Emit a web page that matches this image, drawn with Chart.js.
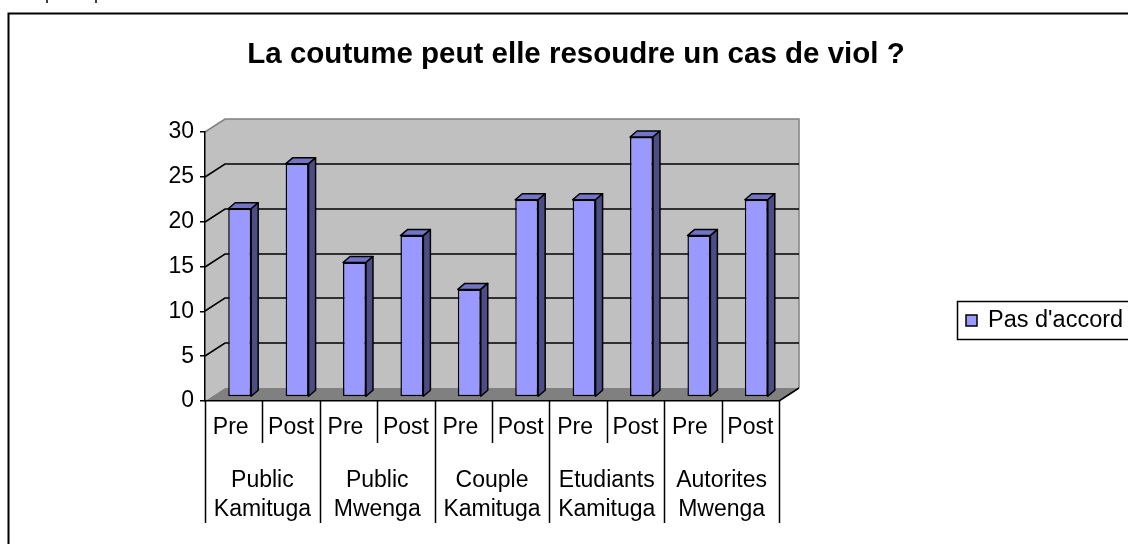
<!DOCTYPE html>
<html>
<head>
<meta charset="utf-8">
<script src="https://cdn.jsdelivr.net/npm/chart.js@4.4.0/dist/chart.umd.min.js"></script>
<style>
  html, body { margin: 0; padding: 0; background: #fff; }
  #wrap { width: 1128px; height: 544px; }
</style>
</head>
<body>
<div id="wrap"><canvas id="chart" width="1128" height="544"></canvas></div>
<script>
const chartTitle = 'La coutume peut elle resoudre un cas de viol ?';
const groups = [['Public', 'Kamituga'], ['Public', 'Mwenga'], ['Couple', 'Kamituga'], ['Etudiants', 'Kamituga'], ['Autorites', 'Mwenga']];
const phases = ['Pre', 'Post'];
const labels = ['Pre', 'Post', 'Pre', 'Post', 'Pre', 'Post', 'Pre', 'Post', 'Pre', 'Post'];
const seriesName = "Pas d'accord";
const values = [21, 26, 15, 18, 12, 22, 22, 29, 18, 22];
const yTicks = [0, 5, 10, 15, 20, 25, 30];

const FONT = "'Liberation Sans', Arial, sans-serif";
const DEPTH_X = 20, DEPTH_Y = -13;   // back wall offset
const BAR_X = 6, BAR_Y = -4;         // bar plane offset
const BAR_DX = 7, BAR_DY = -6;       // bar thickness

const walls = {
    id: 'walls',
    beforeDraw(chart) {
        const { ctx, chartArea: a, scales: { y } } = chart;
        ctx.save();
        ctx.fillStyle = '#fff';
        ctx.fillRect(0, 0, chart.width, chart.height);

        // outer frame
        ctx.strokeStyle = '#000';
        ctx.lineWidth = 2;
        ctx.strokeRect(8.5, 13.5, 1300, 700);
        ctx.lineWidth = 1.5;
        ctx.beginPath();
        ctx.moveTo(47, 0); ctx.lineTo(47, 3);
        ctx.moveTo(96, 0); ctx.lineTo(96, 3);
        ctx.stroke();

        const top = y.getPixelForValue(30), bot = y.getPixelForValue(0);
        // back wall
        ctx.fillStyle = '#C0C0C0';
        ctx.fillRect(a.left + DEPTH_X, top + DEPTH_Y, a.right - a.left, bot - top);
        // side wall
        ctx.beginPath();
        ctx.moveTo(a.left, top);
        ctx.lineTo(a.left + DEPTH_X, top + DEPTH_Y);
        ctx.lineTo(a.left + DEPTH_X, bot + DEPTH_Y);
        ctx.lineTo(a.left, bot);
        ctx.closePath();
        ctx.fill();
        // floor
        ctx.fillStyle = '#808080';
        ctx.beginPath();
        ctx.moveTo(a.left, bot);
        ctx.lineTo(a.left + DEPTH_X, bot + DEPTH_Y);
        ctx.lineTo(a.right + DEPTH_X, bot + DEPTH_Y);
        ctx.lineTo(a.right, bot);
        ctx.closePath();
        ctx.fill();

        // wall outline
        ctx.strokeStyle = '#808080';
        ctx.lineWidth = 1.5;
        ctx.beginPath();
        ctx.moveTo(a.left, top);
        ctx.lineTo(a.left + DEPTH_X, top + DEPTH_Y);
        ctx.lineTo(a.right + DEPTH_X, top + DEPTH_Y);
        ctx.lineTo(a.right + DEPTH_X, bot + DEPTH_Y);
        ctx.stroke();

        // gridlines
        ctx.strokeStyle = '#000';
        ctx.lineWidth = 1.5;
        ctx.beginPath();
        yTicks.filter(v => v > 0 && v < 30).forEach(v => {
            const py = Math.round(y.getPixelForValue(v));
            ctx.moveTo(a.left, py);
            ctx.lineTo(a.left + DEPTH_X, py + DEPTH_Y);
            ctx.lineTo(a.right + DEPTH_X, py + DEPTH_Y);
        });
        ctx.stroke();
        ctx.restore();
    },
    beforeDatasetsDraw(chart) {
        chart.ctx.save();
        chart.ctx.translate(BAR_X, BAR_Y);
    },
    afterDatasetsDraw(chart) {
        const ctx = chart.ctx;
        chart.getDatasetMeta(0).data.forEach(bar => {
            const l = bar.x - bar.width / 2, r = bar.x + bar.width / 2;
            const t = bar.y, b = bar.base;
            ctx.lineWidth = 1.5;
            ctx.strokeStyle = '#000';
            ctx.lineJoin = 'round';
            ctx.fillStyle = '#7373C8';
            ctx.beginPath();
            ctx.moveTo(l, t);
            ctx.lineTo(l + BAR_DX, t + BAR_DY);
            ctx.lineTo(r + BAR_DX, t + BAR_DY);
            ctx.lineTo(r, t);
            ctx.closePath();
            ctx.fill(); ctx.stroke();
            ctx.fillStyle = '#4D4D85';
            ctx.beginPath();
            ctx.moveTo(r, t);
            ctx.lineTo(r + BAR_DX, t + BAR_DY);
            ctx.lineTo(r + BAR_DX, b + BAR_DY);
            ctx.lineTo(r, b);
            ctx.closePath();
            ctx.fill(); ctx.stroke();
        });
        ctx.restore();
    },
    afterDraw(chart) {
        const { ctx, chartArea: a, scales: { x, y } } = chart;
        const bot = y.getPixelForValue(0);
        ctx.save();
        ctx.strokeStyle = '#000';
        ctx.lineWidth = 1.5;
        // floor right edge
        ctx.beginPath();
        ctx.moveTo(a.right, bot);
        ctx.lineTo(a.right + DEPTH_X, bot + DEPTH_Y);
        ctx.stroke();

        // category dividers
        const w = (a.right - a.left) / labels.length;
        ctx.beginPath();
        for (let k = 0; k <= labels.length; k++) {
            const px = Math.round(a.left + k * w) + 0.5;
            ctx.moveTo(px, bot);
            ctx.lineTo(px, k % 2 === 0 ? 523 : 443);
        }
        ctx.stroke();

        ctx.fillStyle = '#000';
        ctx.textAlign = 'center';
        ctx.textBaseline = 'alphabetic';
        ctx.font = '23px ' + FONT;
        labels.forEach((lab, i) => {
            ctx.fillText(lab, x.getPixelForValue(i) - (i % 2 === 0 ? 3 : 0), 434);
        });
        groups.forEach((g, gi) => {
            const cx = (x.getPixelForValue(gi * 2) + x.getPixelForValue(gi * 2 + 1)) / 2;
            ctx.fillText(g[0], cx, 487);
            ctx.fillText(g[1], cx, 516);
        });

        // title
        ctx.font = 'bold 29.5px ' + FONT;
        ctx.fillText(chartTitle, 576, 63);

        // legend
        ctx.lineWidth = 1.5;
        ctx.fillStyle = '#fff';
        ctx.fillRect(957, 301, 200, 38);
        ctx.strokeRect(957.5, 301.5, 200, 38);
        ctx.fillStyle = '#9999FF';
        ctx.fillRect(966, 315, 11, 11);
        ctx.strokeRect(966, 315, 11, 11);
        ctx.fillStyle = '#000';
        ctx.textAlign = 'left';
        ctx.textBaseline = 'middle';
        ctx.font = '23.5px ' + FONT;
        ctx.fillText(chart.data.datasets[0].label, 988, 321);
        ctx.restore();
    }
};

new Chart(document.getElementById('chart'), {
    type: 'bar',
    data: {
        labels: labels,
        datasets: [{
            label: seriesName,
            data: values,
            backgroundColor: '#9999FF',
            borderColor: '#000',
            borderWidth: 1.5,
            borderSkipped: false,
            barPercentage: 0.4,
            categoryPercentage: 1,
            clip: false
        }]
    },
    options: {
        responsive: false,
        animation: false,
        events: [],
        layout: { padding: { left: 145, right: 349, top: 132, bottom: 43 } },
        plugins: {
            legend: { display: false },
            title: { display: false },
            tooltip: { enabled: false }
        },
        scales: {
            x: {
                afterFit(scale) { scale.height = 100; },
                ticks: { display: false },
                grid: { display: false },
                border: { display: true, color: '#000', width: 1.5 }
            },
            y: {
                min: 0,
                max: 30,
                afterFit(scale) { scale.width = 60; },
                afterBuildTicks(scale) { scale.ticks = yTicks.map(v => ({ value: v })); },
                ticks: { color: '#000', padding: 6, font: { family: FONT, size: 23 } },
                grid: { drawOnChartArea: false, color: '#000', tickLength: 5, lineWidth: 1.5 },
                border: { display: true, color: '#000', width: 1.5 }
            }
        }
    },
    plugins: [walls]
});
</script>
</body>
</html>
